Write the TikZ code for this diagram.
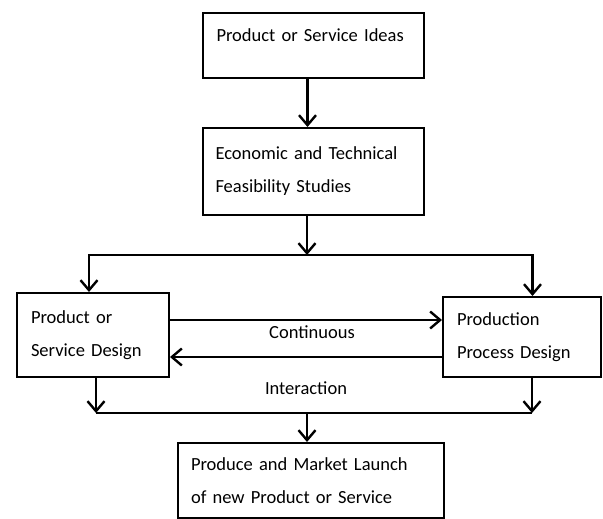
\documentclass[tikz,border=0pt]{standalone}
\usepackage{fontspec}
\setmainfont{Carlito}
\usetikzlibrary{arrows.meta}

\begin{document}
\begin{tikzpicture}[x=1pt,y=-1pt,
        caja/.style={draw,line width=2pt,fill=white,inner xsep=0pt,inner ysep=0pt,
            align=left,font=\fontsize{18.5}{33}\selectfont},
        texto/.style={font=\fontsize{18.5}{33}\selectfont},
        linea/.style={line width=2.8pt},
        flecha/.style={linea,-{Straight Barb[length=10pt,width=17pt,line width=2.4pt]}}]
        % marco
        \useasboundingbox[fill=white] (0,0) rectangle (603,519);

        % cajas
        \node[caja,minimum width=221pt,minimum height=65pt,text width=194pt,text depth=20pt] (ideas) at (313.5,45.5) {Product or Service Ideas};
        \node[caja,minimum width=221pt,minimum height=87pt,text width=196pt] (feas) at (313.5,171.5) {Economic and Technical\\Feasibility Studies};
        \node[caja,minimum width=152pt,minimum height=84pt,text width=124pt] (design) at (93,335) {Product or\\Service Design};
        \node[caja,minimum width=158pt,minimum height=80pt,text width=130pt] (process) at (522,337) {Production\\Process Design};
        \node[caja,minimum width=266pt,minimum height=75pt,text width=240pt] (launch) at (311,480.5) {Produce and Market Launch\\of new Product or Service};

        % textos
        \node[texto] (cont) at (312,332) {Continuous};
        \node[texto] (inter) at (306,388) {Interaction};

        % puntos de union
        \coordinate (split) at (307,255);
        \coordinate (join) at (307,413);

        % flechas
        \draw[flecha] ([xshift=-6pt]ideas.south) -- ([xshift=-6pt]feas.north);
        \draw[flecha] ([xshift=-6.5pt]feas.south) -- (split);
        \draw[flecha] (split) -| ([xshift=-4pt]design.north);
        \draw[flecha] (split) -| ([xshift=10.5pt]process.north);
        \draw[flecha] ([yshift=15pt]design.east) -- ([yshift=15pt]design.east -| process.west);
        \draw[flecha] ([yshift=-20pt]process.west) -- ([yshift=-20pt]process.west -| design.east);
        \draw[flecha] ([xshift=3pt]design.south) -- ([xshift=3pt]design.south |- join);
        \draw[flecha] ([xshift=10pt]process.south) -- ([xshift=10pt]process.south |- join);
        \draw[linea] ([xshift=3pt]design.south |- join) -- ([xshift=10pt]process.south |- join);
        \draw[flecha] (join) -- ([xshift=-4pt]launch.north);
\end{tikzpicture}
\end{document}
